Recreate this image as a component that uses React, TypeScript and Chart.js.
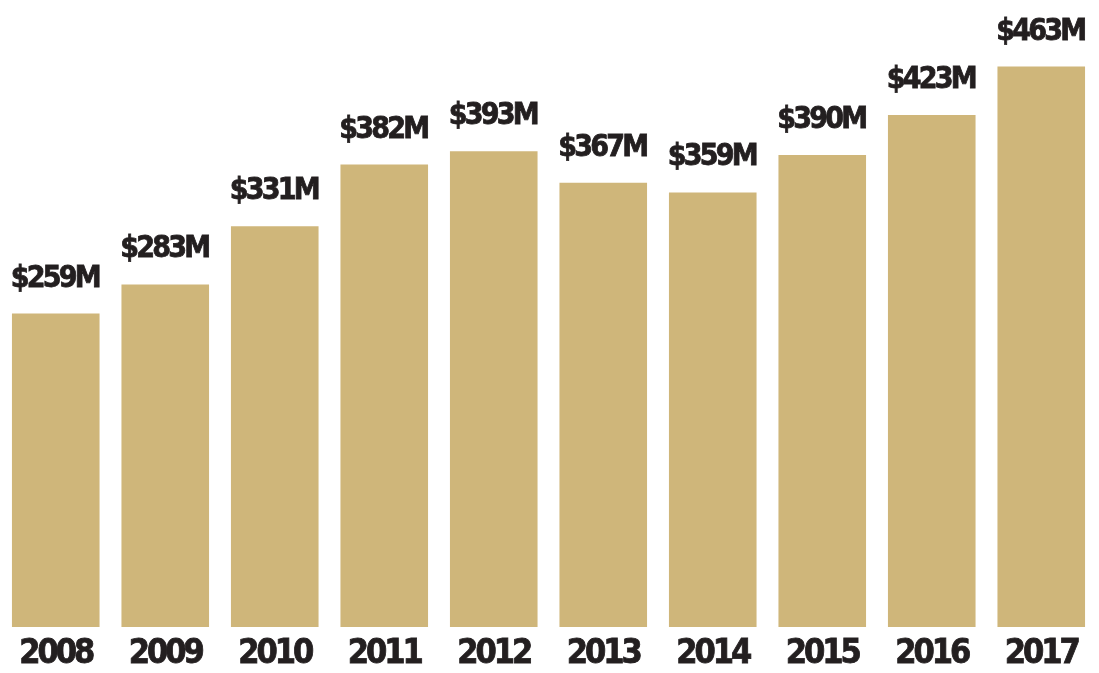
import React, { useEffect, useRef } from "react";
import { Chart, registerables } from "chart.js";

Chart.register(...registerables);

const years = ["2008", "2009", "2010", "2011", "2012", "2013", "2014", "2015", "2016", "2017"];
const revenue = [259, 283, 331, 382, 393, 367, 359, 390, 423, 463];
const valueLabels = ["$259M", "$283M", "$331M", "$382M", "$393M", "$367M", "$359M", "$390M", "$423M", "$463M"];

const FONT = "'DejaVu Sans Condensed', 'DejaVu Sans', sans-serif";
const TEXT = "#231f20";
const BAR = "#cfb67a";

const spacingPlugin = {
  id: "tightText",
  beforeDraw(chart: any) {
    (chart.ctx as any).letterSpacing = "-3px";
  },
  afterDraw(chart: any) {
    (chart.ctx as any).letterSpacing = "0px";
  },
};

const labelPlugin = {
  id: "valueLabels",
  afterDatasetsDraw(chart: any) {
    const ctx = chart.ctx;
    const meta = chart.getDatasetMeta(0);
    ctx.save();
    (ctx as any).letterSpacing = "-2.8px";
    ctx.fillStyle = TEXT;
    ctx.strokeStyle = TEXT;
    ctx.lineWidth = 0.8;
    ctx.font = `bold 30px ${FONT}`;
    ctx.textAlign = "center";
    ctx.textBaseline = "alphabetic";
    meta.data.forEach((bar: any, i: number) => {
      const x = bar.x - 1;
      const y = bar.y - 27;
      ctx.fillText(valueLabels[i], x, y);
      ctx.strokeText(valueLabels[i], x, y);
    });
    ctx.restore();
  },
};

export default function App() {
  const ref = useRef<HTMLCanvasElement>(null);
  useEffect(() => {
    if (!ref.current) return;
    const chart = new Chart(ref.current, {
      type: "bar",
      data: {
        labels: years,
        datasets: [
          {
            data: revenue,
            backgroundColor: BAR,
            borderWidth: 0,
            categoryPercentage: 0.8,
            barPercentage: 1,
          },
        ],
      },
      options: {
        animation: false,
        responsive: false,
        maintainAspectRatio: false,
        layout: { padding: { left: 1, right: 3, top: 0, bottom: 0 } },
        plugins: { legend: { display: false }, tooltip: { enabled: false } },
        scales: {
          y: { display: false, min: 0, max: 518 },
          x: {
            afterFit: (scale: any) => {
              scale.height = 46;
            },
            grid: { display: false, drawTicks: false },
            border: { display: false },
            ticks: {
              color: TEXT,
              padding: 7,
              font: { family: FONT, size: 34, weight: "bold" },
              textStrokeColor: TEXT,
              textStrokeWidth: 0.8,
              maxRotation: 0,
              autoSkip: false,
            },
          },
        },
      },
      plugins: [spacingPlugin, labelPlugin],
    });
    return () => chart.destroy();
  }, []);
  return (
    <div style={{ position: "fixed", left: 0, top: 0, width: 1099, height: 673, background: "#fff" }}>
      <canvas ref={ref} width={1099} height={673} style={{ width: 1099, height: 673 }} />
    </div>
  );
}
